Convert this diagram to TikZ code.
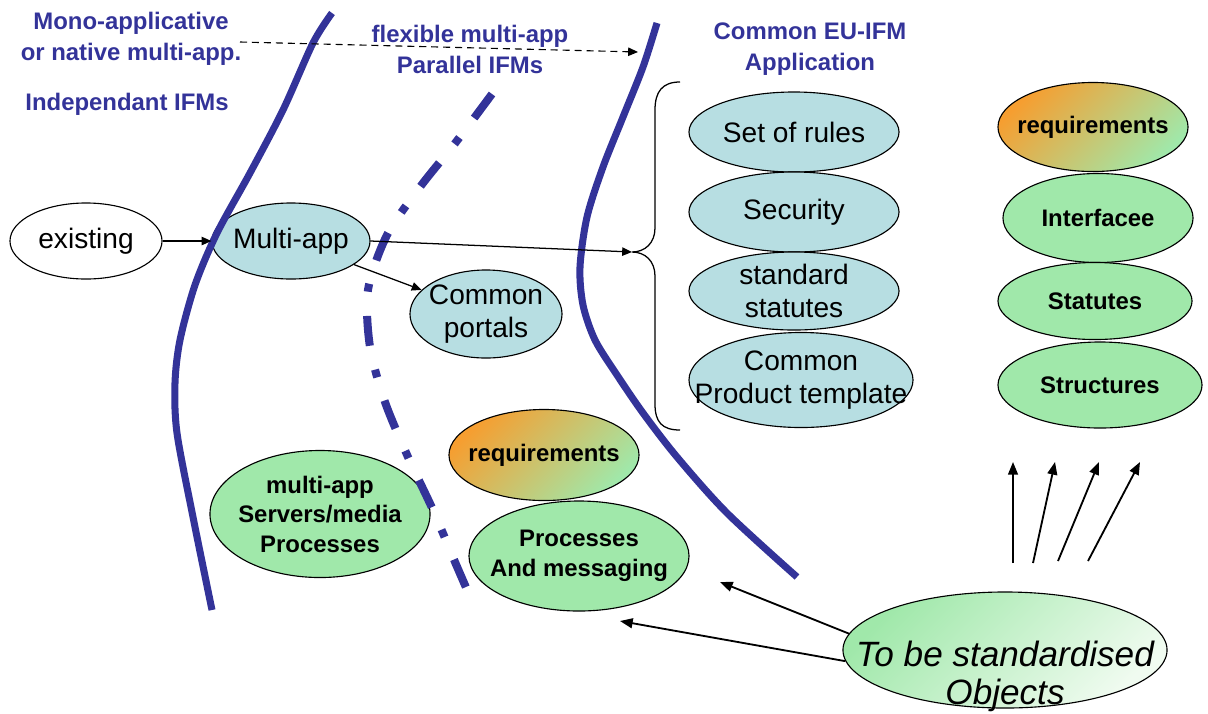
\documentclass[tikz,border=0pt]{standalone}
\usepackage{fontspec}
\setmainfont{Liberation Sans}
\usetikzlibrary{arrows.meta,shapes.geometric}
\definecolor{hdr}{RGB}{51,51,153}
\definecolor{lblue}{RGB}{183,222,226}
\definecolor{lgreen}{RGB}{160,232,170}
\definecolor{orng}{RGB}{246,158,48}
\definecolor{pgreen}{RGB}{240,251,240}
\begin{document}
\begin{tikzpicture}[x=0.025cm,y=-0.025cm,
  ell/.style={ellipse,draw=black,line width=0.8pt,inner xsep=-45pt,inner ysep=-25pt,align=center},
  lbell/.style={ell,fill=lblue,font=\fontsize{20}{24}\selectfont},
  gell/.style={ell,fill=lgreen,font=\fontsize{17}{21}\selectfont\bfseries},
  rqell/.style={ell,top color=orng,bottom color=lgreen,shading angle=45,font=\fontsize{17}{21}\selectfont\bfseries},
  hdrtxt/.style={text=hdr,font=\fontsize{17}{22}\selectfont\bfseries,align=center,inner sep=0pt},
  bluecurve/.style={draw=hdr,line width=5pt},
  arr/.style={-{Triangle[length=7pt,width=6pt]},line width=0.9pt},
  bigarr/.style={-{Triangle[length=9pt,width=7pt]},line width=1.3pt},
]
\useasboundingbox (0,0) rectangle (1208,713);

% headers
\node[hdrtxt] (h1) at (131,39) {Mono-applicative\\or native multi-app.};
\node[hdrtxt] (h2) at (127,104) {Independant IFMs};
\node[hdrtxt] (h3) at (470,49) {flexible multi-app\\Parallel IFMs};
\node[hdrtxt] (h4) at (810,49) {Common EU-IFM\\Application};

% left part
\node[lbell,fill=white,minimum width=3.8cm,minimum height=1.9cm] (ex) at (86,241) {existing};
\node[lbell,minimum width=3.95cm,minimum height=1.9cm] (ma) at (291,241) {Multi-app};
\node[lbell,minimum width=3.8cm,minimum height=2.2cm] (cp) at (486,314) {Common\\portals};

% common application column
\node[lbell,minimum width=5.25cm,minimum height=2.0cm] (sr) at (794,132) {Set of rules};
\node[lbell,minimum width=5.25cm,minimum height=2.0cm] (sec) at (794,212) {Security};
\node[lbell,minimum width=5.25cm,minimum height=1.95cm] (ss) at (794,291) {standard\\statutes};
\node[lbell,minimum width=5.6cm,minimum height=2.375cm] (cpt) at (801,380) {Common\\Product template};

% right column
\node[rqell,minimum width=4.75cm,minimum height=2.225cm] (rq1) at (1093,127) {requirements};
\node[gell,minimum width=4.75cm,minimum height=2.225cm] (itf) at (1098,218) {Interfacee};
\node[gell,minimum width=4.85cm,minimum height=1.925cm] (stt) at (1095,301) {Statutes};
\node[gell,minimum width=5.1cm,minimum height=2.15cm] (str) at (1100,385) {Structures};

% bottom
\node[gell,minimum width=5.5cm,minimum height=3.175cm] (srv) at (320,514) {multi-app\\Servers/media\\Processes};
\node[rqell,minimum width=4.75cm,minimum height=2.275cm] (rq2) at (544,455) {requirements};
\node[gell,minimum width=5.5cm,minimum height=2.75cm] (pam) at (579,556) {Processes\\And messaging};
\node[ell,top color=lgreen,bottom color=pgreen,shading angle=45,font=\fontsize{25}{27}\selectfont\itshape,minimum width=8.1cm,minimum height=2.9cm] (obj) at (1005,650)
  {\raisebox{-26pt}[0pt][0pt]{\begin{tabular}{@{}c@{}}To be standardised\\Objects\end{tabular}}};

% blue boundary curves
\draw[bluecurve] plot[smooth] coordinates {(332,13) (313,43) (283,110) (250,173) (217,233) (195,285) (180,340) (175,383) (177,433) (193,517) (212,610)};
\draw[bluecurve,line width=5.7pt,dash pattern=on 21.3pt off 17.4pt on 5.7pt off 17.3pt] plot[smooth] coordinates {(492,94) (456,142) (420,187) (387,235) (368,290) (370,347) (385,402) (408,457) (433,510) (455,562) (468,592)};
\draw[bluecurve] plot[smooth] coordinates {(657,23) (643,67) (623,117) (603,167) (587,217) (580,267) (583,305) (595,340) (617,375) (643,413) (677,457) (727,513) (797,577)};

% brace
\coordinate (bt) at (632,252);
\draw[line width=0.9pt] (680,82) .. controls (662,82) and (655,92) .. (655,110) -- (655,228)
  .. controls (655,243) and (645,252) .. (bt) .. controls (645,252) and (655,261) .. (655,276)
  -- (655,404) .. controls (655,422) and (662,430) .. (680,430);

% connectors
\draw[arr] (ex) -- (ma);
\draw[arr] (ma.east) -- (bt);
\draw[arr] (ma) -- (cp);
\coordinate (da1) at (240,42);
\coordinate (da2) at (638,52);
\draw[arr,line width=0.8pt,dash pattern=on 5pt off 3.5pt] (da1) -- (da2);

\coordinate (p1) at (720,582);
\coordinate (p2) at (620,621);
\draw[bigarr] (obj.174) -- (p1);
\draw[bigarr] (obj.184) -- (p2);

\coordinate (u1s) at (1013,563); \coordinate (u1e) at (1013,462);
\coordinate (u2s) at (1033,563); \coordinate (u2e) at (1055,462);
\coordinate (u3s) at (1058,561); \coordinate (u3e) at (1099,462);
\coordinate (u4s) at (1088,561); \coordinate (u4e) at (1140,462);
\draw[bigarr] (u1s) -- (u1e);
\draw[bigarr] (u2s) -- (u2e);
\draw[bigarr] (u3s) -- (u3e);
\draw[bigarr] (u4s) -- (u4e);
\end{tikzpicture}
\end{document}
